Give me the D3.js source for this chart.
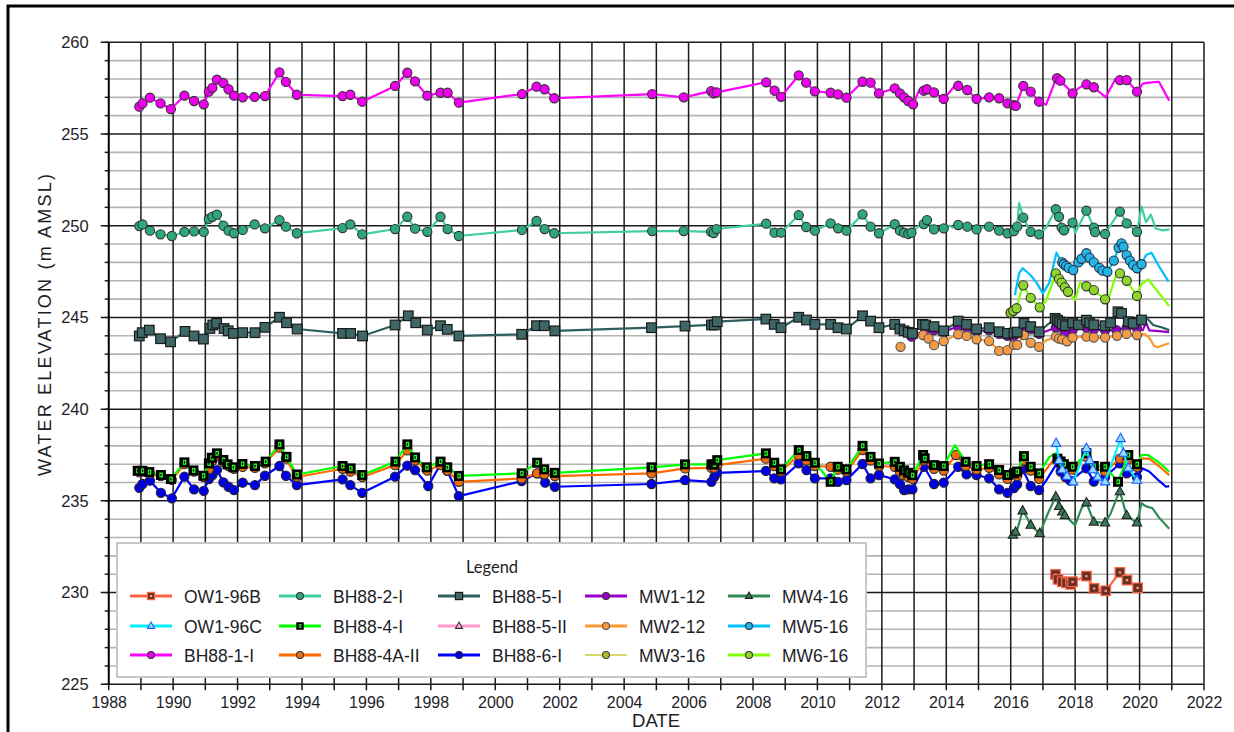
<!DOCTYPE html>
<html>
<head>
<meta charset="utf-8">
<script src="https://cdn.jsdelivr.net/npm/d3@7"></script>
<style>
body { margin: 0; background: #fff; }
svg { display: block; }
text { font-family: "Liberation Sans", Arial, sans-serif; fill: #1e1e28; }
</style>
</head>
<body>
<div id="chart"></div>
<script>
// water levels, [decimal year, elevation m AMSL, marker?]  (0 = logger point, no marker)
var ow196b = [[2017.39,230.99],[2017.47,230.72],[2017.6,230.59],[2017.73,230.53],[2017.86,230.45],[2017.92,230.59],[2018.35,230.9],[2018.59,230.23],[2018.95,230.1],[2019.39,231.1],[2019.61,230.68],[2019.94,230.26]];

var ow196c = [[2017.41,238.14],[2017.5,237.2],[2017.6,236.7],[2017.75,236.35],[2017.94,236.04],[2018.35,237.86],[2018.45,237.2],[2018.55,236.7],[2018.7,236.3],[2018.93,236.04],[2019.41,238.4],[2019.5,237.6],[2019.65,236.8],[2019.92,236.13]];

var bh881 = [[1988.95,256.49],[1989.05,256.67],[1989.28,256.98],[1989.61,256.67],[1989.93,256.36],[1990.35,257.09],[1990.65,256.8],[1990.95,256.62],[1991.11,257.31],[1991.22,257.52],[1991.36,257.96],[1991.56,257.78],[1991.72,257.44],[1991.89,257.09],[1992.16,257.0],[1992.53,257.02],[1992.85,257.07],[1993.3,258.36],[1993.5,257.84],[1993.84,257.14],[1995.26,257.07],[1995.5,257.14],[1995.87,256.76],[1996.89,257.62],[1997.27,258.34],[1997.51,257.87],[1997.89,257.09],[1998.3,257.25],[1998.52,257.25],[1998.87,256.71],[2000.83,257.18],[2001.28,257.58],[2001.53,257.44],[2001.83,256.95],[2004.87,257.18],[2005.85,257.0],[2006.7,257.34],[2006.78,257.22],[2006.87,257.27],[2008.41,257.82],[2008.67,257.36],[2008.87,257.03],[2009.42,258.2],[2009.65,257.8],[2009.92,257.33],[2010.41,257.25],[2010.64,257.16],[2010.9,256.98],[2011.4,257.85],[2011.65,257.8],[2011.91,257.22],[2012.4,257.49],[2012.56,257.22],[2012.69,257.0],[2012.82,256.8],[2012.97,256.62],[2013.16,257.4,0],[2013.3,257.36],[2013.4,257.44],[2013.62,257.27],[2013.92,256.91],[2014.3,257.7,0],[2014.37,257.63],[2014.65,257.4],[2014.94,256.91],[2015.33,257.0],[2015.64,256.95],[2015.9,256.67],[2016.1,256.58],[2016.16,256.53],[2016.39,257.62],[2016.62,257.31],[2016.88,256.76],[2017.1,256.6,0],[2017.38,257.9,0],[2017.44,258.04],[2017.54,257.91],[2017.92,257.22],[2018.1,257.49,0],[2018.2,257.6,0],[2018.35,257.71],[2018.58,257.55],[2018.95,257.0,0],[2019.25,258.0,0],[2019.39,257.94],[2019.6,257.94],[2019.92,257.31],[2020.1,257.75,0],[2020.3,257.8,0],[2020.6,257.85,0],[2020.92,256.82,0]];

var bh882 = [[1988.95,249.98],[1989.05,250.07],[1989.28,249.73],[1989.61,249.53],[1989.96,249.44],[1990.35,249.66],[1990.65,249.69],[1990.95,249.66],[1991.11,250.37],[1991.22,250.49],[1991.36,250.6],[1991.56,250.0],[1991.72,249.73],[1991.89,249.59],[1992.16,249.77],[1992.53,250.07],[1992.85,249.86],[1993.3,250.31],[1993.5,249.95],[1993.84,249.59],[1995.26,249.87],[1995.5,250.07],[1995.87,249.53],[1996.89,249.82],[1997.27,250.49],[1997.51,249.84],[1997.89,249.67],[1998.3,250.49],[1998.52,249.82],[1998.87,249.44],[2000.83,249.77],[2001.28,250.26],[2001.53,249.82],[2001.83,249.59],[2004.87,249.71],[2005.85,249.71],[2006.7,249.67],[2006.78,249.6],[2006.87,249.82],[2008.41,250.11],[2008.67,249.62],[2008.87,249.62],[2009.42,250.58],[2009.65,249.93],[2009.92,249.73],[2010.41,250.13],[2010.64,249.86],[2010.9,249.73],[2011.4,250.62],[2011.65,249.95],[2011.91,249.59],[2012.4,250.08],[2012.56,249.73],[2012.69,249.62],[2012.82,249.55],[2012.92,249.62],[2013.15,250.0,0],[2013.3,250.09],[2013.4,250.31],[2013.62,249.8],[2013.92,249.86],[2014.1,250.0,0],[2014.2,249.9,0],[2014.37,250.04],[2014.65,249.95],[2014.94,249.8],[2015.1,249.9,0],[2015.33,249.95],[2015.64,249.73],[2015.9,249.59],[2016.1,249.7],[2016.2,249.95],[2016.26,251.25,0],[2016.39,250.44],[2016.62,249.67],[2016.88,249.53],[2017.1,249.9,0],[2017.25,250.4,0],[2017.4,250.9],[2017.5,250.49],[2017.58,249.9],[2017.65,249.75],[2017.75,249.6,0],[2017.92,250.17],[2018.0,249.6,0],[2018.2,250.3,0],[2018.35,250.82],[2018.58,249.9],[2018.62,249.65],[2018.93,249.55],[2019.2,250.3,0],[2019.39,250.77],[2019.6,250.13],[2019.92,249.67],[2020.06,251.04,0],[2020.2,250.2,0],[2020.35,250.6,0],[2020.5,249.85,0],[2020.7,249.75,0],[2020.93,249.8,0]];

var bh884 = [[1988.9,236.64],[1989.05,236.64],[1989.26,236.57],[1989.62,236.41],[1989.93,236.19],[1990.35,237.1],[1990.63,236.66],[1990.94,236.37],[1991.11,237.04],[1991.2,237.35],[1991.36,237.59],[1991.56,237.23],[1991.69,236.99],[1991.87,236.83],[1992.15,237.01],[1992.54,236.9],[1992.87,237.14],[1993.3,238.08],[1993.52,237.4],[1993.84,236.44],[1995.26,236.9],[1995.51,236.77],[1995.87,236.41],[1996.9,237.14],[1997.27,238.08],[1997.51,237.37],[1997.87,236.83],[1998.3,237.14],[1998.51,236.83],[1998.87,236.36],[2000.82,236.5],[2001.3,237.08],[2001.52,236.72],[2001.85,236.53],[2004.85,236.83],[2005.89,236.99],[2006.71,236.99],[2006.8,236.99],[2006.89,237.22],[2008.4,237.59],[2008.66,237.08],[2008.87,236.72],[2009.42,237.77],[2009.66,237.44],[2009.92,237.08],[2010.41,236.04],[2010.63,236.86],[2010.9,236.72],[2011.4,238.0],[2011.65,237.4],[2011.91,237.04],[2012.4,237.13],[2012.56,236.86],[2012.69,236.66],[2012.82,236.53],[2012.95,236.4],[2013.28,237.5],[2013.33,237.32],[2013.62,236.95],[2013.92,236.9],[2014.27,238.04,0],[2014.6,237.13],[2014.94,236.9],[2015.33,237.0],[2015.64,236.68],[2015.9,236.41],[2016.1,236.5],[2016.2,236.6],[2016.41,237.44],[2016.62,236.86],[2016.88,236.5],[2017.2,237.4,0],[2017.4,237.6,0],[2017.45,237.3],[2017.55,237.15],[2017.65,237.0],[2017.92,236.86],[2018.2,237.3,0],[2018.35,237.6],[2018.58,236.9],[2018.93,236.86],[2019.33,236.04],[2019.65,237.5],[2019.92,237.0],[2020.06,237.5,0],[2020.26,237.5,0],[2020.6,237.1,0],[2020.92,236.59,0]];

var bh884a = [[1988.95,236.55],[1989.05,236.6],[1989.28,236.5],[1989.62,236.35],[1989.96,236.15],[1990.35,237.0],[1990.65,236.6],[1990.95,236.3],[1991.11,236.72],[1991.22,237.2],[1991.36,237.45],[1991.56,237.1],[1991.72,236.9],[1991.89,236.75],[1992.16,236.85],[1992.54,236.8],[1992.85,237.05],[1993.3,237.9],[1993.5,237.3],[1993.84,236.3],[1995.26,236.75],[1995.5,236.6],[1995.87,236.3],[1996.89,236.95],[1997.27,237.75],[1997.51,237.2],[1997.89,236.65],[1998.3,236.95],[1998.51,236.65],[1998.87,236.04],[2000.82,236.22],[2001.3,236.5],[2001.52,236.45],[2001.85,236.35],[2004.85,236.5],[2005.89,236.77],[2006.71,236.8],[2006.8,236.8],[2006.89,236.95],[2008.4,237.3],[2008.66,236.9],[2008.87,236.6],[2009.42,237.5],[2009.66,237.2],[2009.92,236.9],[2010.41,236.86],[2010.63,236.7],[2010.9,236.6],[2011.4,237.77],[2011.65,237.2],[2011.91,236.9],[2012.4,236.86],[2012.56,236.6],[2012.69,236.4],[2012.82,236.3],[2012.95,236.2],[2013.3,237.2],[2013.62,236.75],[2013.92,236.65],[2014.3,237.5],[2014.6,236.9],[2014.94,236.7],[2015.33,236.8],[2015.64,236.45],[2015.9,236.2],[2016.2,236.35],[2016.41,237.2],[2016.62,236.65],[2016.88,236.2],[2017.4,237.4,0],[2017.6,237.0],[2017.92,236.7],[2018.35,237.4],[2018.58,236.8],[2018.93,236.6],[2019.39,237.3],[2019.6,237.2],[2019.92,236.85],[2020.06,237.3,0],[2020.3,237.3,0],[2020.6,236.9,0],[2020.92,236.4,0]];

var bh885 = [[1988.95,243.99],[1989.04,244.17],[1989.26,244.31],[1989.61,243.84],[1989.92,243.67],[1990.37,244.24],[1990.65,243.99],[1990.94,243.82],[1991.14,244.4],[1991.23,244.59],[1991.35,244.68],[1991.58,244.4],[1991.71,244.27],[1991.87,244.13],[1992.16,244.17],[1992.54,244.17],[1992.85,244.46],[1993.3,245.01],[1993.52,244.71],[1993.85,244.37],[1995.26,244.13],[1995.51,244.13],[1995.88,243.99],[1996.89,244.59],[1997.3,245.09],[1997.53,244.71],[1997.89,244.31],[1998.3,244.55],[1998.51,244.35],[1998.87,243.99],[2000.82,244.08],[2001.28,244.55],[2001.52,244.55],[2001.85,244.27],[2004.85,244.44],[2005.89,244.53],[2006.71,244.59],[2006.8,244.59],[2006.89,244.77],[2008.4,244.91],[2008.66,244.62],[2008.87,244.44],[2009.42,245.01],[2009.66,244.86],[2009.92,244.62],[2010.41,244.62],[2010.64,244.44],[2010.9,244.37],[2011.4,245.09],[2011.65,244.8],[2011.91,244.44],[2012.4,244.62],[2012.56,244.37],[2012.69,244.27],[2012.82,244.19],[2012.95,244.13],[2013.26,244.62],[2013.36,244.59],[2013.62,244.5],[2013.92,244.27],[2014.37,244.8],[2014.63,244.62],[2014.94,244.37],[2015.33,244.44],[2015.64,244.22],[2015.9,244.13],[2016.1,244.15],[2016.2,244.2],[2016.41,244.68],[2016.62,244.5],[2016.88,244.22],[2017.38,244.95],[2017.45,244.85],[2017.52,244.75],[2017.6,244.65],[2017.7,244.55],[2017.92,244.7],[2018.1,244.6],[2018.35,244.85],[2018.45,244.7],[2018.58,244.6],[2018.93,244.55],[2019.1,244.7],[2019.33,245.31],[2019.44,245.22],[2019.65,244.77],[2019.8,244.68],[2020.06,244.86],[2020.26,244.9,0],[2020.42,244.59,0],[2020.7,244.45,0],[2020.92,244.31,0]];

// BH88-5-II sits under BH88-5-I in the plot
var bh885ii = [[1991.71,244.27],[1991.87,244.13],[1992.16,244.17],null,[2006.71,244.59],[2006.8,244.59]];

var bh886 = [[1988.95,235.71],[1989.05,235.92],[1989.28,236.1],[1989.62,235.44],[1989.96,235.14],[1990.35,236.32],[1990.65,235.63],[1990.95,235.55],[1991.11,236.19],[1991.22,236.41],[1991.36,236.68],[1991.56,236.01],[1991.72,235.77],[1991.89,235.59],[1992.16,235.99],[1992.54,235.86],[1992.85,236.37],[1993.3,236.9],[1993.5,236.37],[1993.84,235.86],[1995.26,236.17],[1995.5,235.86],[1995.87,235.44],[1996.89,236.32],[1997.27,236.92],[1997.51,236.68],[1997.92,235.81],[1998.3,237.0],[1998.51,236.64],[1998.87,235.26],[2000.82,236.08],[2001.3,236.5],[2001.55,235.99],[2001.85,235.77],[2004.85,235.92],[2005.89,236.13],[2006.71,236.04],[2006.8,236.31],[2006.89,236.53],[2008.4,236.63],[2008.66,236.23],[2008.87,236.17],[2009.42,237.04],[2009.66,236.68],[2009.92,236.23],[2010.41,236.23],[2010.64,236.04],[2010.9,236.13],[2011.4,237.01],[2011.65,236.23],[2011.91,236.41],[2012.4,236.17],[2012.56,235.92],[2012.69,235.59],[2012.82,235.63],[2012.95,235.63],[2013.31,236.86],[2013.62,235.92],[2013.92,235.99],[2014.37,236.86],[2014.63,236.44],[2014.94,236.41],[2015.33,236.23],[2015.64,235.63],[2015.9,235.44],[2016.1,235.7],[2016.2,235.9],[2016.37,236.72],[2016.62,235.81],[2016.88,235.59],[2017.1,236.1,0],[2017.4,236.95,0],[2017.55,236.6],[2017.7,236.3],[2017.85,236.1],[2018.35,236.77],[2018.58,236.05],[2018.93,236.3],[2019.39,237.04],[2019.6,236.5],[2019.92,236.3],[2020.1,236.77,0],[2020.3,236.6,0],[2020.6,236.1,0],[2020.82,235.77,0],[2020.92,235.8,0]];

var mw112 = [[2012.92,243.95],[2013.35,244.31],[2013.62,244.3],[2013.9,244.22],[2014.37,244.5],[2014.65,244.4],[2014.94,244.25],[2015.33,244.3],[2015.64,244.1],[2015.9,244.0],[2016.07,243.95],[2016.41,244.5],[2016.62,244.35],[2016.88,244.1],[2017.4,244.45],[2017.68,244.04],[2017.92,244.3],[2018.35,244.45],[2018.58,244.35],[2018.93,244.3],[2019.28,244.31],[2019.6,244.45],[2019.92,244.4],[2020.1,244.3,0],[2020.2,244.75,0],[2020.3,244.3,0],[2020.6,244.25,0],[2020.92,244.2,0]];

var mw212 = [[2012.58,243.4],null,[2013.28,244.04],[2013.45,243.85],[2013.62,243.49],[2013.92,243.71],[2014.37,244.08],[2014.63,243.99],[2014.94,243.81],[2015.33,243.71],[2015.64,243.18],[2015.9,243.22],[2016.1,243.5],[2016.2,243.5],[2016.41,244.04],[2016.62,243.62],[2016.88,243.4],[2017.1,243.75,0],[2017.4,243.95],[2017.5,243.85],[2017.6,243.8],[2017.75,243.7],[2017.92,243.9],[2018.35,243.95],[2018.58,243.9],[2018.93,243.9],[2019.3,244.0],[2019.6,244.1],[2019.92,244.04],[2020.15,244.1,0],[2020.3,243.9,0],[2020.45,243.45,0],[2020.56,243.37,0],[2020.75,243.5,0],[2020.92,243.59,0]];

var mw316 = [[2016.0,245.26],[2016.08,245.36]];

var mw416 = [[2016.07,233.14],[2016.15,233.3],[2016.2,233.4,0],[2016.37,234.46],[2016.5,234.1,0],[2016.62,233.68],[2016.9,233.23],[2017.15,234.3,0],[2017.4,235.23],[2017.5,234.7],[2017.6,234.4],[2017.68,234.2],[2018.0,233.68,0],[2018.2,234.6,0],[2018.35,234.9],[2018.58,233.85],[2018.93,233.8],[2019.1,234.3,0],[2019.3,235.2,0],[2019.39,235.5],[2019.6,234.2],[2019.92,233.8],[2020.06,234.87,0],[2020.2,234.7,0],[2020.4,234.6,0],[2020.6,234.1,0],[2020.92,233.48,0]];

var mw516 = [[2016.13,246.22,0],[2016.26,247.4,0],[2016.37,247.68,0],[2016.62,247.3,0],[2016.8,246.9,0],[2017.0,246.31,0],[2017.2,246.9,0],[2017.42,248.53,0],[2017.55,248.1,0],[2017.6,248.0],[2017.65,247.9],[2017.72,247.8],[2017.8,247.7],[2017.94,247.58],[2018.1,248.0],[2018.2,248.2],[2018.35,248.5],[2018.45,248.25],[2018.58,248.0],[2018.75,247.7],[2018.85,247.55],[2019.0,247.49],[2019.2,248.1],[2019.35,248.8],[2019.44,249.04],[2019.5,248.85],[2019.6,248.4],[2019.7,248.1],[2019.8,247.85],[2019.92,247.68],[2020.06,247.9],[2020.2,248.4,0],[2020.37,248.53,0],[2020.6,247.8,0],[2020.9,246.95,0]];

var mw616 = [[2016.0,245.26],[2016.08,245.36],[2016.18,245.5],[2016.3,246.3,0],[2016.39,246.75],[2016.62,246.07],[2016.9,245.55],[2017.1,245.9,0],[2017.4,247.4],[2017.5,247.1],[2017.58,246.9],[2017.68,246.64],[2017.78,246.4],[2018.0,245.95,0],[2018.15,246.9,0],[2018.35,246.7],[2018.58,246.49],[2018.93,245.99],[2019.05,246.1,0],[2019.25,247.2,0],[2019.39,247.4],[2019.6,247.0],[2019.92,246.17],[2020.05,246.8,0],[2020.26,247.08,0],[2020.92,245.62,0]];

var yearTicks = d3.range(1988, 2023);
var yearLabels = d3.range(1988, 2023, 2);
var elevTicks = d3.range(225, 261, 5);
var elevMinor = d3.range(225, 261, 1);

var series = [
  {name: "OW1-96B", data: ow196b, line: "#ff6644", shape: "square", fill: "#6a3026", stroke: "#ff6644"},
  {name: "OW1-96C", data: ow196c, line: "#00f0ff", shape: "triangle", fill: "#9ad8ff", stroke: "#1060ff"},
  {name: "BH88-1-I", data: bh881, line: "#ff00ff", shape: "circle", fill: "#ee00ee", stroke: "#333"},
  {name: "BH88-2-I", data: bh882, line: "#3fcf9a", shape: "circle", fill: "#2ea87a", stroke: "#333"},
  {name: "BH88-4-I", data: bh884, line: "#00ff00", shape: "greensq", fill: "#000", stroke: "#000"},
  {name: "BH88-4A-II", data: bh884a, line: "#ff6a00", shape: "circle", fill: "#f06a10", stroke: "#333"},
  {name: "BH88-5-I", data: bh885, line: "#2f5f5c", shape: "square", fill: "#3d6867", stroke: "#1a1a1a"},
  {name: "BH88-5-II", data: bh885ii, line: "#ff99cc", shape: "triangle", fill: "#ffb3d6", stroke: "#333"},
  {name: "BH88-6-I", data: bh886, line: "#0000ff", shape: "circle", fill: "#0000e6", stroke: "#223"},
  {name: "MW1-12", data: mw112, line: "#9900cc", shape: "circle", fill: "#9400c8", stroke: "#333"},
  {name: "MW2-12", data: mw212, line: "#ff9933", shape: "circle", fill: "#f59a45", stroke: "#555"},
  {name: "MW3-16", data: mw316, line: "#cccc33", shape: "circle", fill: "#b8b830", stroke: "#444", w: 1.2},
  {name: "MW4-16", data: mw416, line: "#2e8b57", shape: "triangle", fill: "#3b7a58", stroke: "#222"},
  {name: "MW5-16", data: mw516, line: "#00bfff", shape: "circle", fill: "#25b4e6", stroke: "#234"},
  {name: "MW6-16", data: mw616, line: "#80ff00", shape: "circle", fill: "#8fd62a", stroke: "#333"}
];

var drawOrder = ["BH88-5-II", "MW1-12", "MW2-12", "MW3-16", "BH88-1-I", "BH88-2-I", "BH88-5-I",
  "MW5-16", "MW6-16", "BH88-6-I", "BH88-4A-II", "BH88-4-I", "OW1-96C", "MW4-16", "OW1-96B"];

var W = 1234, H = 732;
var plotL = 108.7, plotR = 1204, plotT = 42.3, plotB = 684.3;

var svg = d3.select("#chart").append("svg")
  .attr("width", W)
  .attr("height", H);

// outer frame
svg.append("path")
  .attr("d", "M8,732 L8,6 L1234,6")
  .attr("fill", "none")
  .attr("stroke", "#000")
  .attr("stroke-width", 3);

var x = d3.scaleLinear().domain([1988, 2022]).range([plotL, plotR]);
var y = d3.scaleLinear().domain([225, 260]).range([plotB, plotT]);

// grid
svg.append("g").selectAll("line")
  .data(elevMinor.filter(function(v) { return v % 5 !== 0; }))
  .join("line")
  .attr("x1", plotL - 4).attr("x2", plotR)
  .attr("y1", function(d) { return y(d); }).attr("y2", function(d) { return y(d); })
  .attr("stroke", "#b4b4b4").attr("stroke-width", 1.6);

svg.append("g").selectAll("line")
  .data(yearTicks)
  .join("line")
  .attr("x1", function(d) { return x(d); }).attr("x2", function(d) { return x(d); })
  .attr("y1", plotT).attr("y2", plotB + 6)
  .attr("stroke", "#1a1a1a").attr("stroke-width", 1.5);

svg.append("g").selectAll("line")
  .data(elevTicks)
  .join("line")
  .attr("x1", plotL - 8).attr("x2", plotR)
  .attr("y1", function(d) { return y(d); }).attr("y2", function(d) { return y(d); })
  .attr("stroke", "#1a1a1a").attr("stroke-width", 1.5);

// minor y ticks
svg.append("g").selectAll("line")
  .data(elevMinor)
  .join("line")
  .attr("x1", plotL - 4).attr("x2", plotL)
  .attr("y1", function(d) { return y(d); }).attr("y2", function(d) { return y(d); })
  .attr("stroke", "#1a1a1a").attr("stroke-width", 1.3);

// axes labels
var yAxis = d3.axisLeft(y).tickValues(elevTicks).tickSize(0).tickPadding(20).tickFormat(d3.format("d"));
svg.append("g").attr("transform", "translate(" + plotL + ",0)").call(yAxis)
  .call(function(g) { g.select(".domain").remove(); })
  .selectAll("text").attr("font-size", 16.5).attr("fill", "#1e1e28")
  .style("font-family", "'Liberation Sans', Arial, sans-serif");

var xAxis = d3.axisBottom(x).tickValues(yearLabels).tickSize(0).tickPadding(12).tickFormat(d3.format("d"));
svg.append("g").attr("transform", "translate(0," + plotB + ")").call(xAxis)
  .call(function(g) { g.select(".domain").remove(); })
  .selectAll("text").attr("font-size", 16).attr("fill", "#1e1e28")
  .style("font-family", "'Liberation Sans', Arial, sans-serif");

svg.append("line").attr("x1", plotL).attr("x2", plotL).attr("y1", plotT).attr("y2", plotB)
  .attr("stroke", "#000").attr("stroke-width", 1.8);

svg.append("text")
  .attr("transform", "translate(51,324) rotate(-90)")
  .attr("text-anchor", "middle")
  .attr("font-size", 18)
  .attr("letter-spacing", 2.2)
  .text("WATER ELEVATION (m AMSL)");

svg.append("text")
  .attr("x", 656).attr("y", 727)
  .attr("text-anchor", "middle")
  .attr("font-size", 18.5)
  .text("DATE");

// series
svg.append("clipPath").attr("id", "plotclip").append("rect")
  .attr("x", plotL).attr("y", plotT).attr("width", plotR - plotL).attr("height", plotB - plotT);

var plot = svg.append("g").attr("clip-path", "url(#plotclip)");

var line = d3.line()
  .defined(function(d) { return d !== null; })
  .x(function(d) { return x(d[0]); })
  .y(function(d) { return y(d[1]); });

function drawMarker(g, s, px, py, scale) {
  var k = scale || 1;
  if (s.shape === "circle") {
    g.append("circle").attr("cx", px).attr("cy", py).attr("r", 4.6 * k)
      .attr("fill", s.fill).attr("stroke", s.stroke).attr("stroke-width", 1.1);
  } else if (s.shape === "square") {
    g.append("rect").attr("x", px - 4.8 * k).attr("y", py - 4.8 * k)
      .attr("width", 9.6 * k).attr("height", 9.6 * k)
      .attr("fill", s.fill).attr("stroke", s.stroke).attr("stroke-width", 1.2);
    if (s.name === "OW1-96B") {
      g.append("rect").attr("x", px - 1.2).attr("y", py - 1).attr("width", 2.4).attr("height", 2.2)
        .attr("fill", "#f0a080");
    }
  } else if (s.shape === "greensq") {
    g.append("rect").attr("x", px - 5 * k).attr("y", py - 5 * k)
      .attr("width", 10 * k).attr("height", 10 * k).attr("fill", "#000");
    g.append("rect").attr("x", px - 1.5 * k).attr("y", py - 2.5 * k)
      .attr("width", 3.5 * k).attr("height", 5 * k).attr("fill", "#22ff22");
    g.append("rect").attr("x", px - 0.6 * k).attr("y", py - 1.2 * k)
      .attr("width", 1.3 * k).attr("height", 2.4 * k).attr("fill", "#000");
  } else if (s.shape === "triangle") {
    var r = 5.2 * k;
    g.append("path")
      .attr("d", "M" + px + "," + (py - r) + " L" + (px + r * 0.9) + "," + (py + r * 0.6) + " L" + (px - r * 0.9) + "," + (py + r * 0.6) + "Z")
      .attr("fill", s.fill).attr("stroke", s.stroke).attr("stroke-width", 1.1);
  }
}

drawOrder.forEach(function(nm) {
  var s = series.find(function(d) { return d.name === nm; });
  plot.append("path")
    .datum(s.data)
    .attr("d", line)
    .attr("fill", "none")
    .attr("stroke", s.line)
    .attr("stroke-width", s.w || 2.2)
    .attr("stroke-linejoin", "round");
  var mg = plot.append("g");
  s.data.forEach(function(d) {
    if (d === null || d[2] === 0) return;
    if (s.name === "BH88-5-II") return; // hidden under BH88-5-I markers
    drawMarker(mg, s, x(d[0]), y(d[1]));
  });
});

// legend
var lg = svg.append("g");
lg.append("rect").attr("x", 117).attr("y", 543).attr("width", 749).attr("height", 134)
  .attr("fill", "#fff").attr("stroke", "#c8c8c8").attr("stroke-width", 2);
lg.append("text").attr("x", 492).attr("y", 573).attr("text-anchor", "middle")
  .attr("font-size", 16.5).style("font-family", "Lato, 'Open Sans', sans-serif").text("Legend");

var colX = [130, 279, 438, 585, 728];
var rowY = [596, 626, 655];
series.forEach(function(s, i) {
  var cx = colX[Math.floor(i / 3)], cy = rowY[i % 3];
  lg.append("line").attr("x1", cx).attr("x2", cx + 42).attr("y1", cy).attr("y2", cy)
    .attr("stroke", s.line).attr("stroke-width", s.w ? 1.5 : 3);
  drawMarker(lg, s, cx + 21, cy, 0.75);
  lg.append("text").attr("x", cx + 54).attr("y", cy + 6.5).attr("font-size", 17.5).text(s.name);
});
</script>
</body>
</html>
